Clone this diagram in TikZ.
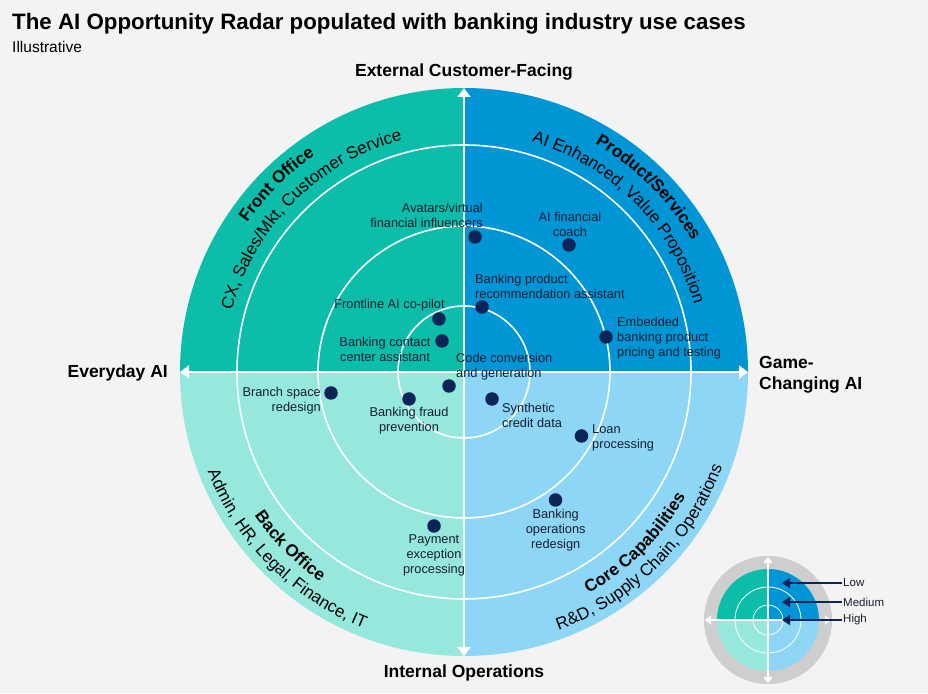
\documentclass[tikz,border=0pt]{standalone}
\usepackage{fontspec}
\setmainfont{Liberation Sans}
\usetikzlibrary{arrows.meta,decorations.text}
\definecolor{frontc}{RGB}{12,190,170}
\definecolor{prodc}{RGB}{0,150,214}
\definecolor{backc}{RGB}{150,232,220}
\definecolor{corec}{RGB}{142,214,245}
\definecolor{dotc}{RGB}{12,36,88}
\definecolor{bgc}{RGB}{243,243,243}
\definecolor{ringc}{RGB}{206,206,206}
\definecolor{txtc}{RGB}{22,30,48}
\newcommand{\arcbf}{\fontsize{17}{17}\selectfont\bfseries}
\newcommand{\arcrm}{\fontsize{17}{17}\selectfont}

\tikzset{
  dot/.style={circle, fill=dotc, inner sep=0pt, minimum size=13.5pt},
  lbl/.style={inner sep=0pt, text=txtc, font=\fontsize{12.8}{15}\selectfont},
  axlbl/.style={inner sep=0pt, font=\fontsize{17.5}{21}\selectfont\bfseries},
  axis/.style={white, line width=2pt, {Triangle[width=13pt,length=9pt]}-{Triangle[width=13pt,length=9pt]}},
  legaxis/.style={white, line width=1.2pt, {Triangle[width=9pt,length=6pt]}-{Triangle[width=9pt,length=6pt]}},
  ptr/.style={draw=dotc, line width=1.5pt, -{Triangle[width=10pt,length=8pt]}},
  arctext/.style={decorate, decoration={text along path, text align=center, text={#1}}},
}

\begin{document}
\begin{tikzpicture}[x=1pt, y=1pt]
\fill[bgc] (0,0) rectangle (928,693);
\useasboundingbox (0,0) rectangle (928,693);

\node[anchor=base west, inner sep=0pt, font=\fontsize{22.3}{26}\selectfont\bfseries] (title) at (12,663) {The AI Opportunity Radar populated with banking industry use cases};
\node[anchor=base west, inner sep=0pt, font=\fontsize{15.5}{18}\selectfont] (subtitle) at (12,640) {Illustrative};

\coordinate (C) at (464,321);
\fill[frontc] (C) -- ++(180:284) arc[start angle=180, end angle=90, radius=284] -- cycle;
\fill[prodc] (C) -- ++(90:284) arc[start angle=90, end angle=0, radius=284] -- cycle;
\fill[corec] (C) -- ++(0:284) arc[start angle=0, end angle=-90, radius=284] -- cycle;
\fill[backc] (C) -- ++(270:284) arc[start angle=270, end angle=180, radius=284] -- cycle;
\foreach \r in {66,146,227}
  \draw[white, line width=1.6pt] (C) circle[radius=\r];

\coordinate (N) at (464,605);
\coordinate (S) at (464,37);
\coordinate (W) at (180,321);
\coordinate (E) at (748,321);
\draw[axis] (W) -- (E);
\draw[axis] (S) -- (N);

\path[arctext={|\arcrm|CX, Sales/Mkt, Customer Service}] ([shift={(178:240)}]C) arc[start angle=178, end angle=92, radius=240];
\path[arctext={|\arcbf|Front Office}] ([shift={(178:263)}]C) arc[start angle=178, end angle=92, radius=263];
\path[arctext={|\arcrm|AI Enhanced, Value Proposition}] ([shift={(88:240)}]C) arc[start angle=88, end angle=2, radius=240];
\path[arctext={|\arcbf|Product/Services}] ([shift={(88:263)}]C) arc[start angle=88, end angle=2, radius=263];
\path[arctext={|\arcrm|Admin, HR, Legal, Finance, IT}] ([shift={(182:275)}]C) arc[start angle=182, end angle=268, radius=275];
\path[arctext={|\arcbf|Back Office}] ([shift={(182:254)}]C) arc[start angle=182, end angle=268, radius=254];
\path[arctext={|\arcrm|R{\&}D, Supply Chain, Operations}] ([shift={(272:275)}]C) arc[start angle=272, end angle=358, radius=275];
\path[arctext={|\arcbf|Core Capabilities}] ([shift={(272:254)}]C) arc[start angle=272, end angle=358, radius=254];

\node[dot] (avatar) at (475,456) {};
\node[lbl, anchor=east, align=right] (avatar-t) at (483,477.5) {Avatars/virtual\\financial influencers};
\node[dot] (coach) at (569,448) {};
\node[lbl, align=center] (coach-t) at (570,469) {AI financial\\coach};
\node[dot] (recom) at (482,386) {};
\node[lbl, anchor=west, align=left] (recom-t) at (475,406.5) {Banking product\\recommendation assistant};
\node[dot] (copilot) at (439,374) {};
\node[lbl] (copilot-t) at (389.5,388) {Frontline AI co-pilot};
\node[dot] (contact) at (442,352) {};
\node[lbl, align=center] (contact-t) at (385,344) {Banking contact\\center assistant};
\node[dot] (embed) at (606,356) {};
\node[lbl, anchor=west, align=left] (embed-t) at (617,355.3) {Embedded\\banking product\\pricing and testing};
\node[dot] (codeconv) at (449,307) {};
\node[lbl, anchor=west, align=left] (codeconv-t) at (456,326) {Code conversion\\and generation};
\node[dot] (branch) at (331,300) {};
\node[lbl, anchor=east, align=right] (branch-t) at (321,292.5) {Branch space\\redesign};
\node[dot] (fraud) at (409,294) {};
\node[lbl, align=center] (fraud-t) at (409,272) {Banking fraud\\prevention};
\node[dot] (synth) at (492,294) {};
\node[lbl, anchor=west, align=left] (synth-t) at (502,278) {Synthetic\\credit data};
\node[dot] (loan) at (581.5,257) {};
\node[lbl, anchor=west, align=left] (loan-t) at (592,255.5) {Loan\\processing};
\node[dot] (opsred) at (555.5,193) {};
\node[lbl, align=center] (opsred-t) at (555.7,162.7) {Banking\\operations\\redesign};
\node[dot] (payment) at (434,167) {};
\node[lbl, align=center] (payment-t) at (434,137.3) {Payment\\exception\\processing};

\node[axlbl] (ext) at (464,621) {External Customer-Facing};
\node[axlbl, anchor=east] (everyday) at (168,320) {Everyday AI};
\node[axlbl, anchor=west, align=left] (gamechg) at (759,318.5) {Game-\\Changing AI};
\node[axlbl] (internal) at (464,20) {Internal Operations};

\coordinate (L) at (768,73);
\fill[ringc] (L) circle[radius=64];
\fill[frontc] (L) -- ++(180:51) arc[start angle=180, end angle=90, radius=51] -- cycle;
\fill[prodc] (L) -- ++(90:51) arc[start angle=90, end angle=0, radius=51] -- cycle;
\fill[corec] (L) -- ++(0:51) arc[start angle=0, end angle=-90, radius=51] -- cycle;
\fill[backc] (L) -- ++(270:51) arc[start angle=270, end angle=180, radius=51] -- cycle;
\foreach \r in {15,33}
  \draw[white, line width=0.8pt] (L) circle[radius=\r];
\coordinate (LN) at (768,136);
\coordinate (LS) at (768,10);
\coordinate (LW) at (705,73);
\coordinate (LE) at (831,73);
\draw[legaxis] (LW) -- (LE);
\draw[legaxis] (LS) -- (LN);

\node[lbl, anchor=west, inner sep=1pt, font=\fontsize{11.5}{13}\selectfont] (low) at (842,110) {Low};
\node[lbl, anchor=west, inner sep=1pt, font=\fontsize{11.5}{13}\selectfont] (medium) at (842,91) {Medium};
\node[lbl, anchor=west, inner sep=1pt, font=\fontsize{11.5}{13}\selectfont] (high) at (842,73) {High};
\coordinate (low-tip) at (782,110);
\coordinate (medium-tip) at (782,91);
\coordinate (high-tip) at (782,73);
\draw[ptr] (low) -- (low-tip);
\draw[ptr] (medium) -- (medium-tip);
\draw[ptr] (high) -- (high-tip);
\end{tikzpicture}
\end{document}
